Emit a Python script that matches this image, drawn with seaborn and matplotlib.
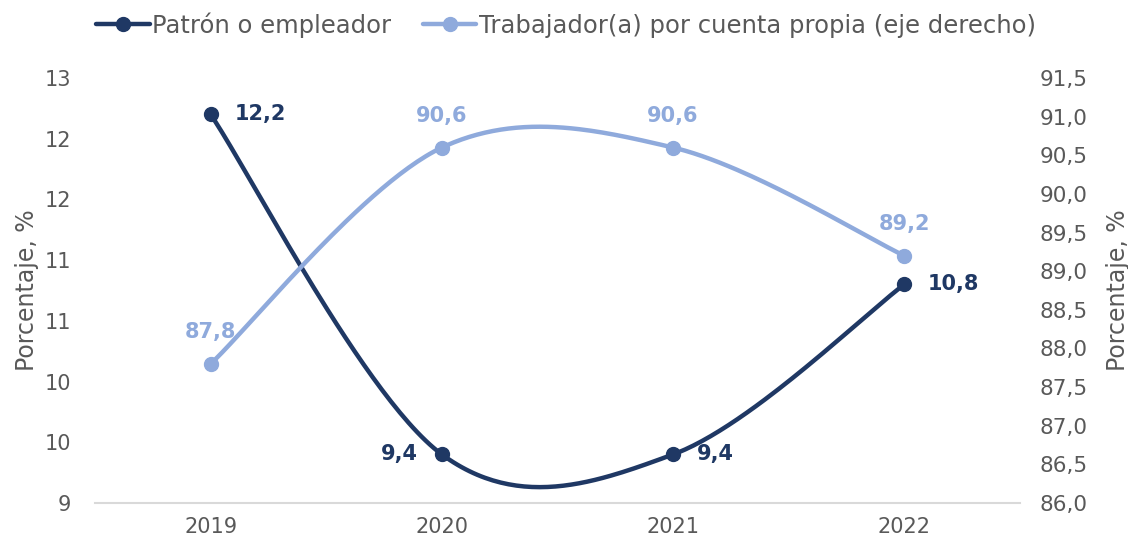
import numpy as np
import pandas as pd
import matplotlib
matplotlib.use("Agg")
import matplotlib.pyplot as plt
import seaborn as sns
from matplotlib.lines import Line2D

# ---- data ----
years = ["2019", "2020", "2021", "2022"]
patron = [12.2, 9.4, 9.4, 10.8]
cuenta_propia = [87.8, 90.6, 90.6, 89.2]
series_names = ["Patrón o empleador", "Trabajador(a) por cuenta propia (eje derecho)"]
left_ticks = [9.0, 9.5, 10.0, 10.5, 11.0, 11.5, 12.0, 12.5]
right_ticks = [86.0, 86.5, 87.0, 87.5, 88.0, 88.5, 89.0, 89.5, 90.0, 90.5, 91.0, 91.5]
axis_label = "Porcentaje, %"

DARK = "#1F3864"
LIGHT = "#8FAADC"
GRAY = "#595959"

sns.set_theme(style="white")
plt.rcParams["font.family"] = ["DejaVu Sans"]


def smooth(xv, yv, n=60):
    """Excel-like smoothed line (Catmull-Rom Bezier)."""
    xv = np.asarray(xv, float)
    yv = np.asarray(yv, float)
    N = len(xv)
    xs, ys = [], []
    t = np.linspace(0, 1, n)
    for i in range(N - 1):
        i0 = i - 1 if i > 0 else i
        i3 = i + 2 if i + 2 < N else i + 1
        P = []
        for arr in (xv, yv):
            p0, p1, p2, p3 = arr[i0], arr[i], arr[i + 1], arr[i3]
            c1 = p1 + (p2 - p0) / 6
            c2 = p2 - (p3 - p1) / 6
            b = ((1 - t) ** 3) * p1 + 3 * ((1 - t) ** 2) * t * c1 + 3 * (1 - t) * t ** 2 * c2 + t ** 3 * p2
            P.append(b)
        xs.append(P[0])
        ys.append(P[1])
    return np.concatenate(xs), np.concatenate(ys)


xpos = np.arange(len(years))

fig = plt.figure(figsize=(11.28, 5.44), dpi=100)
ax = fig.add_axes([95 / 1128, 1 - 503 / 544, (1020 - 95) / 1128, (503 - 78) / 544])
ax2 = ax.twinx()

# left series
sx, sy = smooth(xpos, patron)
sns.lineplot(x=sx, y=sy, ax=ax, color=DARK, lw=3.2, sort=False, estimator=None)
ax.plot(xpos, patron, "o", color=DARK, ms=10, zorder=5)

# right series
sx2, sy2 = smooth(xpos, cuenta_propia)
sns.lineplot(x=sx2, y=sy2, ax=ax2, color=LIGHT, lw=3.2, sort=False, estimator=None)
ax2.plot(xpos, cuenta_propia, "o", color=LIGHT, ms=10, zorder=5)

ax.set_xlim(-0.5, len(years) - 0.5)
ax.set_ylim(left_ticks[0], left_ticks[-1])
ax2.set_ylim(right_ticks[0], right_ticks[-1])

ax.set_xticks(xpos)
ax.set_xticklabels(years, fontsize=15, color=GRAY)
ax.set_yticks(left_ticks)
ax.set_yticklabels([str(int(np.floor(v + 0.5))) for v in left_ticks], fontsize=15, color=GRAY)
ax2.set_yticks(right_ticks)
ax2.set_yticklabels([f"{v:.1f}".replace(".", ",") for v in right_ticks], fontsize=15.5, color=GRAY)

ax.tick_params(axis="both", length=0)
ax.tick_params(axis="y", pad=17)
ax.tick_params(axis="x", pad=10)
ax2.tick_params(axis="y", length=0, pad=14)

ax.set_ylabel(axis_label, fontsize=17, color=GRAY, labelpad=4)
ax2.set_ylabel(axis_label, fontsize=17, color=GRAY, rotation=90, labelpad=13)

for a in (ax, ax2):
    for s in ["top", "right", "left", "bottom"]:
        a.spines[s].set_visible(False)
    a.grid(False)
ax.spines["bottom"].set_visible(True)
ax.spines["bottom"].set_color("#D9D9D9")
ax.spines["bottom"].set_linewidth(1.5)

# data labels
fmt = lambda v: f"{v:.1f}".replace(".", ",")
dark_offsets = [(17, 0, "left"), (-17, 0, "right"), (17, 0, "left"), (17, 0, "left")]
for x, v, (dx, dy, ha) in zip(xpos, patron, dark_offsets):
    ax.annotate(fmt(v), (x, v), xytext=(dx, dy), textcoords="offset points",
                ha=ha, va="center", fontsize=15, fontweight="bold", color=DARK)
for x, v in zip(xpos, cuenta_propia):
    ax2.annotate(fmt(v), (x, v), xytext=(0, 23), textcoords="offset points",
                 ha="center", va="center", fontsize=15, fontweight="bold", color=LIGHT)

handles = [
    Line2D([], [], color=DARK, lw=3.2, marker="o", ms=10),
    Line2D([], [], color=LIGHT, lw=3.2, marker="o", ms=10),
]
fig.legend(handles, series_names, loc="center", bbox_to_anchor=(566 / 1128, 1 - 25 / 544),
           ncol=2, frameon=False, fontsize=17.5, handlelength=2.2, handletextpad=0.1,
           columnspacing=1.3, labelcolor=GRAY)

fig.savefig("out.png", dpi=100)
